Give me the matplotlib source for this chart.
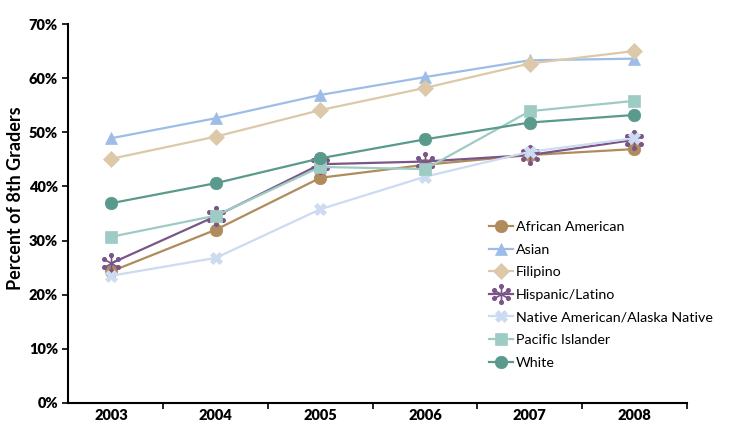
import numpy as np
import matplotlib.pyplot as plt
from matplotlib.path import Path
from matplotlib.ticker import FixedLocator, PercentFormatter

plt.rcParams['font.family'] = ['Lato', 'DejaVu Sans']

years = [2003, 2004, 2005, 2006, 2007, 2008]

african_american = [24.3, 32.0, 41.6, 44.0, 45.8, 46.9]
asian = [48.9, 52.6, 56.9, 60.2, 63.3, 63.6]
filipino = [45.1, 49.2, 54.1, 58.2, 62.7, 65.0]
hispanic = [25.8, 34.5, 44.1, 44.6, 45.8, 48.6]
native = [23.5, 26.8, 35.8, 41.8, 46.4, 48.9]
pacific = [30.7, 34.6, 43.6, 43.2, 53.9, 55.8]
white = [36.9, 40.6, 45.2, 48.7, 51.8, 53.2]

# snowflake marker: spokes with little dots at the ends
def snowflake():
    parts = []
    for ang in [90, 30, -30, -90, -150, 150]:
        a = np.radians(ang)
        x, y = np.cos(a), np.sin(a)
        parts.append(Path([(0, 0), (x * 0.8, y * 0.8)], [Path.MOVETO, Path.LINETO]))
        parts.append(Path.circle((x * 0.85, y * 0.85), 0.18))
    return Path.make_compound_path(*parts)

series = [
    ('African American', african_american, '#b08b5b', 'o', 9),
    ('Asian', asian, '#9dbde8', '^', 9),
    ('Filipino', filipino, '#dcc9aa', 'D', 8),
    ('Hispanic/Latino', hispanic, '#7a5688', snowflake(), 14),
    ('Native American/Alaska Native', native, '#cddbf0', 'X', 9),
    ('Pacific Islander', pacific, '#9fcbc5', 's', 8),
    ('White', white, '#5a9a8d', 'o', 9),
]

fig = plt.figure(figsize=(7.29, 4.24), dpi=100)
ax = fig.add_axes([67.7 / 729, 21 / 424, (686.7 - 67.7) / 729, (403 - 24) / 424])

for name, vals, col, mk, ms in series:
    ax.plot(years, vals, color=col, marker=mk, markersize=ms, linewidth=1.6,
            markerfacecolor=col, markeredgecolor=col, label=name,
            markeredgewidth=1.2 if mk not in ('o', '^', 'D', 's', 'X') else 0.5)

ax.set_xlim(2002.585, 2008.5)
ax.set_ylim(0, 70)
ax.xaxis.set_major_locator(FixedLocator(years))
ax.xaxis.set_minor_locator(FixedLocator([y + 0.5 for y in years]))
ax.tick_params(axis='x', which='major', length=0, pad=4)
ax.tick_params(axis='x', which='minor', length=4, width=1.2, direction='out')
ax.set_yticks(np.arange(0, 71, 10))
ax.yaxis.set_major_formatter(PercentFormatter(decimals=0))
ax.tick_params(axis='y', length=4, width=1.2, direction='out', pad=3)
for lab in ax.get_xticklabels() + ax.get_yticklabels():
    lab.set_fontweight('heavy')
    lab.set_fontsize(10.5)

for s in ['top', 'right']:
    ax.spines[s].set_visible(False)
for s in ['left', 'bottom']:
    ax.spines[s].set_linewidth(1.5)

ax.set_ylabel('Percent of 8th Graders', fontsize=13, fontweight='bold')
ax.yaxis.set_label_coords(-0.07, 0.54)

ax.legend(loc='upper left', bbox_to_anchor=(489 / 729, 1 - 221 / 424),
          bbox_transform=fig.transFigure, frameon=False, fontsize=10.3,
          handlelength=1.7, handletextpad=0.2, labelspacing=0.74, borderaxespad=0,
          borderpad=0)

fig.savefig('out.png', dpi=100)
